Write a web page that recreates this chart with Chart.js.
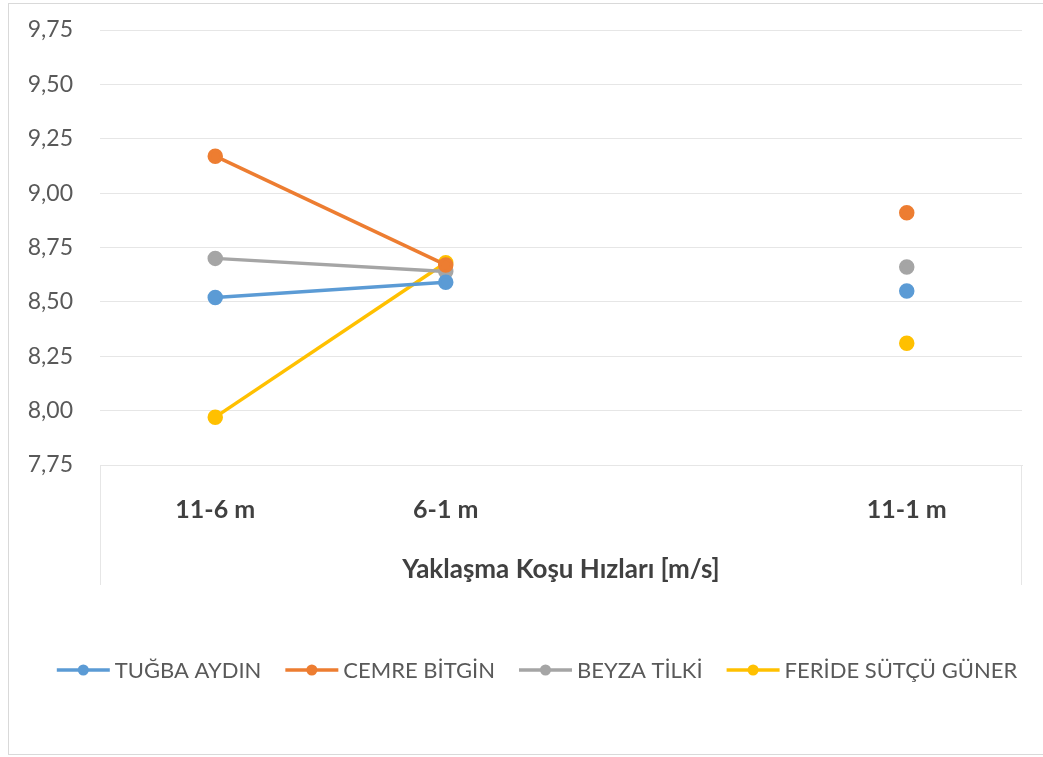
<!DOCTYPE html>
<html lang="tr">
<head>
    <meta charset="UTF-8">
    <title>Yaklaşma Koşu Hızları</title>
    <script src="https://cdn.jsdelivr.net/npm/chart.js"></script>
    <style>
        html, body { margin: 0; padding: 0; background: #fff; }
        .chart-box { position: relative; width: 1043px; height: 757px; }
    </style>
</head>
<body>
    <div class="chart-box">
        <canvas id="speedChart"></canvas>
    </div>
    <script>
        // Veriler
        const categories = ['11-6 m', '6-1 m', '', '11-1 m'];
        const tugba = [8.52, 8.59, null, 8.55];
        const cemre = [9.17, 8.67, null, 8.91];
        const beyza = [8.70, 8.64, null, 8.66];
        const feride = [7.97, 8.68, null, 8.31];
        const yTicks = [7.75, 8.00, 8.25, 8.50, 8.75, 9.00, 9.25, 9.50, 9.75];

        const FONT = 'Lato, "Open Sans", sans-serif';

        function series(label, data, color) {
            return {
                label: label,
                data: data,
                borderColor: color,
                backgroundColor: color,
                pointBackgroundColor: color,
                pointBorderColor: color,
                borderWidth: 3.5,
                pointRadius: 6,
                pointHoverRadius: 6,
                spanGaps: false,
                tension: 0
            };
        }

        // çerçeve + eksen kutusu + lejant
        const decor = {
            id: 'decor',
            beforeDraw(chart) {
                const c = chart.ctx;
                const area = chart.chartArea;
                const xs = chart.scales.x;
                c.save();
                c.strokeStyle = '#d9d9d9';
                c.lineWidth = 1;
                c.strokeRect(8.5, 3.5, 1040, 751);
                c.strokeStyle = '#e6e6e6';
                c.beginPath();
                c.moveTo(area.left + 0.5, area.bottom);
                c.lineTo(area.left + 0.5, xs.bottom);
                c.moveTo(area.right - 0.5, area.bottom);
                c.lineTo(area.right - 0.5, xs.bottom);
                c.stroke();
                c.restore();
            },
            afterDraw(chart) {
                const c = chart.ctx;
                const sets = chart.data.datasets;
                c.save();
                c.font = '22px ' + FONT;
                c.textBaseline = 'middle';
                const lineW = 53, gap = 5, spacing = 24;
                const widths = sets.map(d => lineW + gap + c.measureText(d.label).width);
                const total = widths.reduce((a, b) => a + b, 0) + spacing * (sets.length - 1);
                let x = 537 - total / 2;
                const y = 670;
                sets.forEach((d, i) => {
                    c.strokeStyle = d.borderColor;
                    c.lineWidth = 3.5;
                    c.beginPath();
                    c.moveTo(x, y);
                    c.lineTo(x + lineW, y);
                    c.stroke();
                    c.fillStyle = d.borderColor;
                    c.beginPath();
                    c.arc(x + lineW / 2, y, 5.5, 0, Math.PI * 2);
                    c.fill();
                    c.fillStyle = '#595959';
                    c.fillText(d.label, x + lineW + gap, y + 1);
                    x += widths[i] + spacing;
                });
                c.restore();
            }
        };

        const ctx = document.getElementById('speedChart').getContext('2d');
        new Chart(ctx, {
            type: 'line',
            data: {
                labels: categories,
                datasets: [
                    series('TUĞBA AYDIN', tugba, '#5B9BD5'),
                    series('CEMRE BİTGİN', cemre, '#ED7D31'),
                    series('BEYZA TİLKİ', beyza, '#A5A5A5'),
                    series('FERİDE SÜTÇÜ GÜNER', feride, '#FFC000')
                ]
            },
            options: {
                responsive: true,
                maintainAspectRatio: false,
                animation: false,
                layout: { padding: { top: 0, right: 21, bottom: 172, left: 0 } },
                plugins: {
                    legend: { display: false },
                    tooltip: { enabled: false }
                },
                scales: {
                    x: {
                        offset: true,
                        grid: { display: false, drawTicks: false },
                        border: { display: true, color: '#e6e6e6' },
                        ticks: {
                            color: '#404040',
                            font: { family: FONT, size: 25, weight: 'bold' },
                            padding: 30,
                            maxRotation: 0,
                            autoSkip: false
                        },
                        title: {
                            display: true,
                            text: 'Yaklaşma Koşu Hızları [m/s]',
                            color: '#404040',
                            font: { family: FONT, size: 26, weight: 'bold' },
                            padding: { top: 4, bottom: 0 }
                        },
                        afterFit(scale) { scale.height = 120; }
                    },
                    y: {
                        min: yTicks[0],
                        max: yTicks[yTicks.length - 1],
                        afterBuildTicks(scale) {
                            scale.ticks = yTicks.map(v => ({ value: v }));
                        },
                        grid: { color: '#e6e6e6', drawTicks: false },
                        border: { display: false },
                        ticks: {
                            color: '#595959',
                            font: { family: FONT, size: 23 },
                            padding: 27,
                            callback: v => v.toFixed(2).replace('.', ',')
                        },
                        afterFit(scale) {
                            scale.width = 100;
                            scale.paddingTop = 30;
                            scale.paddingBottom = 0;
                        }
                    }
                }
            },
            plugins: [decor]
        });
    </script>
</body>
</html>
